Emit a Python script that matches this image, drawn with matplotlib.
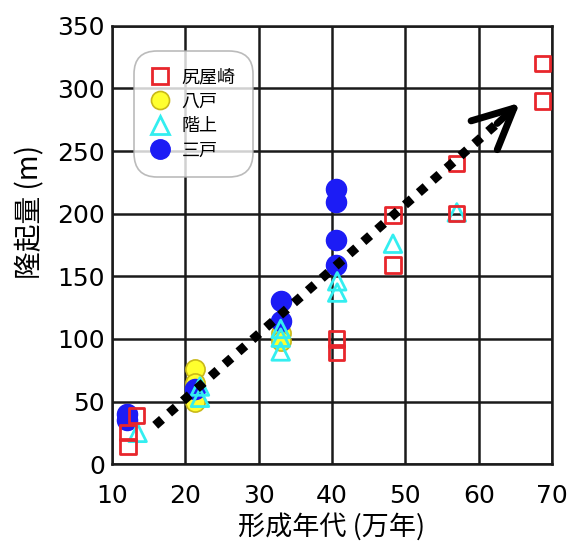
import matplotlib
matplotlib.use('Agg')
import matplotlib.pyplot as plt
from matplotlib.lines import Line2D

plt.rcParams['font.family'] = ['DejaVu Sans', 'Noto Sans CJK JP']

# 尻屋崎
shiriya_x = [12.2, 12.2, 13.3, 40.6, 40.6, 48.3, 48.3, 57.0, 57.0, 68.7, 68.7]
shiriya_y = [14, 25, 39, 100, 89, 199, 159, 240, 200, 320, 290]
# 八戸
hachinohe_x = [21.3, 21.3, 21.3, 33.0, 33.0]
hachinohe_y = [76, 65, 50, 105, 98]
# 階上
hashikami_x = [13.5, 22.0, 22.0, 33.0, 33.0, 33.0, 40.7, 40.7, 48.3, 57.0]
hashikami_y = [25, 62, 53, 108, 101, 90, 146, 137, 176, 201]
# 三戸
sannohe_x = [12.0, 12.0, 21.3, 33.1, 33.1, 40.6, 40.6, 40.6, 40.6]
sannohe_y = [40, 35, 60, 130, 114, 220, 209, 179, 159]

# trend arrow (start, end of dots, tip)
trend_x = [15.9, 62.5, 65.6]
trend_y = [31, 272, 288.5]

x_ticks = [10, 20, 30, 40, 50, 60, 70]
y_ticks = [0, 50, 100, 150, 200, 250, 300, 350]

fig = plt.figure(figsize=(5.74, 5.48), dpi=100)
ax = fig.add_axes([0.195, 0.153, 0.767, 0.80])

red = '#e8262c'
ax.scatter(hachinohe_x, hachinohe_y, s=190, marker='o', facecolor='#ffff2e',
           edgecolor='#c9b818', linewidth=1.2, zorder=3)
ax.scatter(sannohe_x, sannohe_y, s=210, marker='o', facecolor='#1c1cf5',
           edgecolor='#1c1cf5', linewidth=1, zorder=4)
ax.scatter(hashikami_x, hashikami_y, s=160, marker='^', facecolor='none',
           edgecolor='#33eef0', linewidth=2, zorder=5)
ax.scatter(shiriya_x, shiriya_y, s=120, marker='s', facecolor='none',
           edgecolor=red, linewidth=2, zorder=6)

# dotted trend line + open arrowhead
ax.plot(trend_x[:2], trend_y[:2], color='black', lw=6.5,
        linestyle=(0, (1, 1.05)), zorder=7)
ax.annotate('', xy=(trend_x[2], trend_y[2]), xytext=(trend_x[1], trend_y[1]),
            arrowprops=dict(arrowstyle='->, head_length=1.45, head_width=0.7',
                            lw=5, color='black', mutation_scale=20,
                            shrinkA=0, shrinkB=0),
            zorder=8)

ax.set_xlim(10, 70)
ax.set_ylim(0, 350)
ax.set_xticks(x_ticks)
ax.set_yticks(y_ticks)
ax.tick_params(length=0, labelsize=18)
ax.tick_params(axis='x', pad=14)
ax.tick_params(axis='y', pad=5)
ax.grid(True, color='#1a1a1a', lw=1.8)
ax.set_axisbelow(True)
for s in ax.spines.values():
    s.set_color('#1a1a1a')
    s.set_linewidth(1.8)

cjk = ['Noto Sans CJK JP', 'DejaVu Sans']
ax.set_xlabel('形成年代 (万年)', fontsize=19.5, family=cjk, labelpad=4)
ax.set_ylabel('隆起量 (m)', fontsize=20, family=cjk)
ax.yaxis.set_label_coords(-0.152, 0.575)

handles = [
    Line2D([], [], ls='none', marker='s', ms=11, mfc='none', mec=red, mew=2),
    Line2D([], [], ls='none', marker='o', ms=13, mfc='#ffff2e', mec='#c9b818', mew=1.2),
    Line2D([], [], ls='none', marker='^', ms=13, mfc='none', mec='#33eef0', mew=2),
    Line2D([], [], ls='none', marker='o', ms=14, mfc='#1c1cf5', mec='#1c1cf5'),
]
labels = ['尻屋崎', '八戸', '階上', '三戸']
leg = ax.legend(handles, labels, loc='upper left', bbox_to_anchor=(0.062, 0.93),
                prop={'family': cjk, 'size': 13}, frameon=True, fancybox=True,
                labelspacing=0.36, handletextpad=0.7, borderpad=0.65,
                handlelength=1.0, borderaxespad=0)
leg.get_frame().set_edgecolor('#aaaaaa')
leg.get_frame().set_linewidth(1.2)
leg.get_frame().set_boxstyle('round', pad=0.3, rounding_size=1.3)
leg.set_zorder(10)

fig.savefig('out.png', dpi=100)
